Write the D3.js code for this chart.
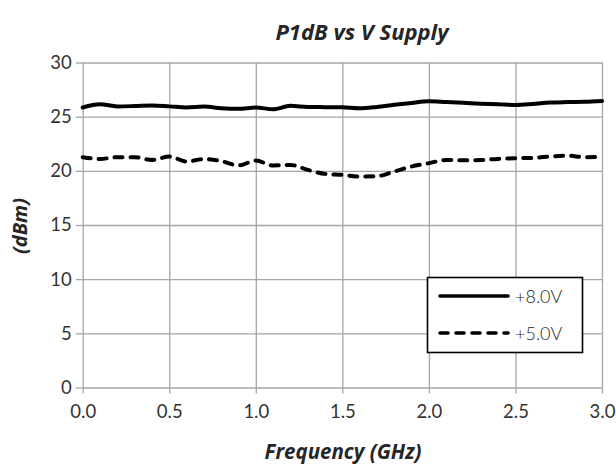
<!DOCTYPE html>
<html><head><meta charset="utf-8">
<script src="https://cdn.jsdelivr.net/npm/d3@7"></script>
<style>
html,body{margin:0;padding:0;background:#fff;}
svg{display:block;}
</style></head>
<body>
<svg id="chart" width="616" height="464"></svg>
<script>
// ---- data ----
const freqGHz = [0.0,0.1,0.2,0.3,0.4,0.5,0.6,0.7,0.8,0.9,1.0,1.1,1.2,1.3,1.4,1.5,1.6,1.7,1.8,1.9,2.0,2.1,2.2,2.3,2.4,2.5,2.6,2.7,2.8,2.9,3.0];
const p1dB_8V = [25.85,26.15,25.95,25.98,26.03,25.95,25.85,25.93,25.78,25.72,25.85,25.68,26.0,25.9,25.88,25.86,25.77,25.9,26.1,26.27,26.42,26.35,26.28,26.2,26.15,26.08,26.17,26.3,26.35,26.38,26.45];
const p1dB_5V = [21.26,21.1,21.26,21.26,21.0,21.32,20.86,21.08,20.9,20.5,20.95,20.49,20.55,20.09,19.72,19.63,19.47,19.5,19.94,20.4,20.71,21.0,20.97,21.0,21.1,21.17,21.2,21.32,21.4,21.26,21.3];
const seriesNames = ["+8.0V","+5.0V"];
const xTicks = [0,0.5,1.0,1.5,2.0,2.5,3.0];
const yTicks = [0,5,10,15,20,25,30];
const titleText = "P1dB vs V Supply";
const xTitle = "Frequency (GHz)";
const yTitle = "(dBm)";

// ---- layout ----
const svg = d3.select("#chart");
const L = 82.7, R = 602, T = 62.5, B = 387.5;
const x = d3.scaleLinear().domain([0,3]).range([L,R]);
const y = d3.scaleLinear().domain([0,30]).range([B,T]);
const gridCol = "#a3a6ab";
const textCol = "#262626";
const tickFont = "Lato, 'Open Sans', sans-serif";
const titleFont = "'Open Sans', Lato, sans-serif";

// horizontal grid + y ticks
const gy = svg.append("g").attr("transform",`translate(${L},0)`)
  .call(d3.axisLeft(y).tickValues(yTicks).tickSize(7).tickPadding(4).tickFormat(d3.format("d")));
gy.select(".domain").remove();
gy.selectAll(".tick line").attr("stroke",gridCol).attr("stroke-width",1.3);
gy.selectAll(".tick").append("line").attr("x1",0).attr("x2",R-L).attr("stroke",gridCol).attr("stroke-width",1.3);
gy.selectAll("text").attr("font-family",tickFont).attr("font-size",18.5).attr("fill","#333");

// vertical grid + x ticks
const gx = svg.append("g").attr("transform",`translate(0,${B})`)
  .call(d3.axisBottom(x).tickValues(xTicks).tickSize(6).tickPadding(11).tickFormat(d3.format(".1f")));
gx.select(".domain").remove();
gx.selectAll(".tick line").attr("stroke",gridCol).attr("stroke-width",1.3);
gx.selectAll(".tick").append("line").attr("y1",0).attr("y2",T-B).attr("stroke",gridCol).attr("stroke-width",1.3);
gx.selectAll("text").attr("font-family",tickFont).attr("font-size",18.5).attr("fill","#333");

// series
const line = d3.line().x((d,i)=>x(freqGHz[i])).y(d=>y(d)).curve(d3.curveMonotoneX);
svg.append("path").datum(p1dB_8V).attr("d",line)
  .attr("fill","none").attr("stroke","#000").attr("stroke-width",4).attr("stroke-linejoin","round").attr("stroke-linecap","round");
svg.append("path").datum(p1dB_5V).attr("d",line)
  .attr("fill","none").attr("stroke","#000").attr("stroke-width",4).attr("stroke-dasharray","8,8").attr("stroke-linejoin","round").attr("stroke-linecap","round");

// titles
svg.append("text").attr("x",362).attr("y",40).attr("text-anchor","middle")
  .attr("font-family",titleFont).attr("font-weight","bold").attr("font-style","italic")
  .attr("font-size",22).attr("fill",textCol).text(titleText);
svg.append("text").attr("x",343).attr("y",459).attr("text-anchor","middle")
  .attr("font-family",titleFont).attr("font-weight","bold").attr("font-style","italic")
  .attr("font-size",20.5).attr("fill",textCol).text(xTitle);
svg.append("text").attr("transform","translate(27,226) rotate(-90)").attr("text-anchor","middle")
  .attr("font-family",titleFont).attr("font-weight","bold").attr("font-style","italic")
  .attr("font-size",20).attr("fill",textCol).text(yTitle);

// legend
const lg = svg.append("g");
lg.append("rect").attr("x",427.5).attr("y",277.5).attr("width",155).attr("height",75)
  .attr("fill","#fff").attr("stroke","#000").attr("stroke-width",1.6);
const legendRows = [{name:seriesNames[0],dash:null,yy:296},{name:seriesNames[1],dash:"8,8",yy:333}];
legendRows.forEach(r=>{
  lg.append("line").attr("x1",440).attr("x2",508).attr("y1",r.yy).attr("y2",r.yy)
    .attr("stroke","#000").attr("stroke-width",3.6).attr("stroke-linecap","round")
    .attr("stroke-dasharray",r.dash);
  lg.append("text").attr("x",515).attr("y",r.yy+6.5).attr("font-family",tickFont).attr("font-weight",300)
    .attr("font-size",18).attr("fill",textCol).text(r.name);
});
</script>
</body></html>
